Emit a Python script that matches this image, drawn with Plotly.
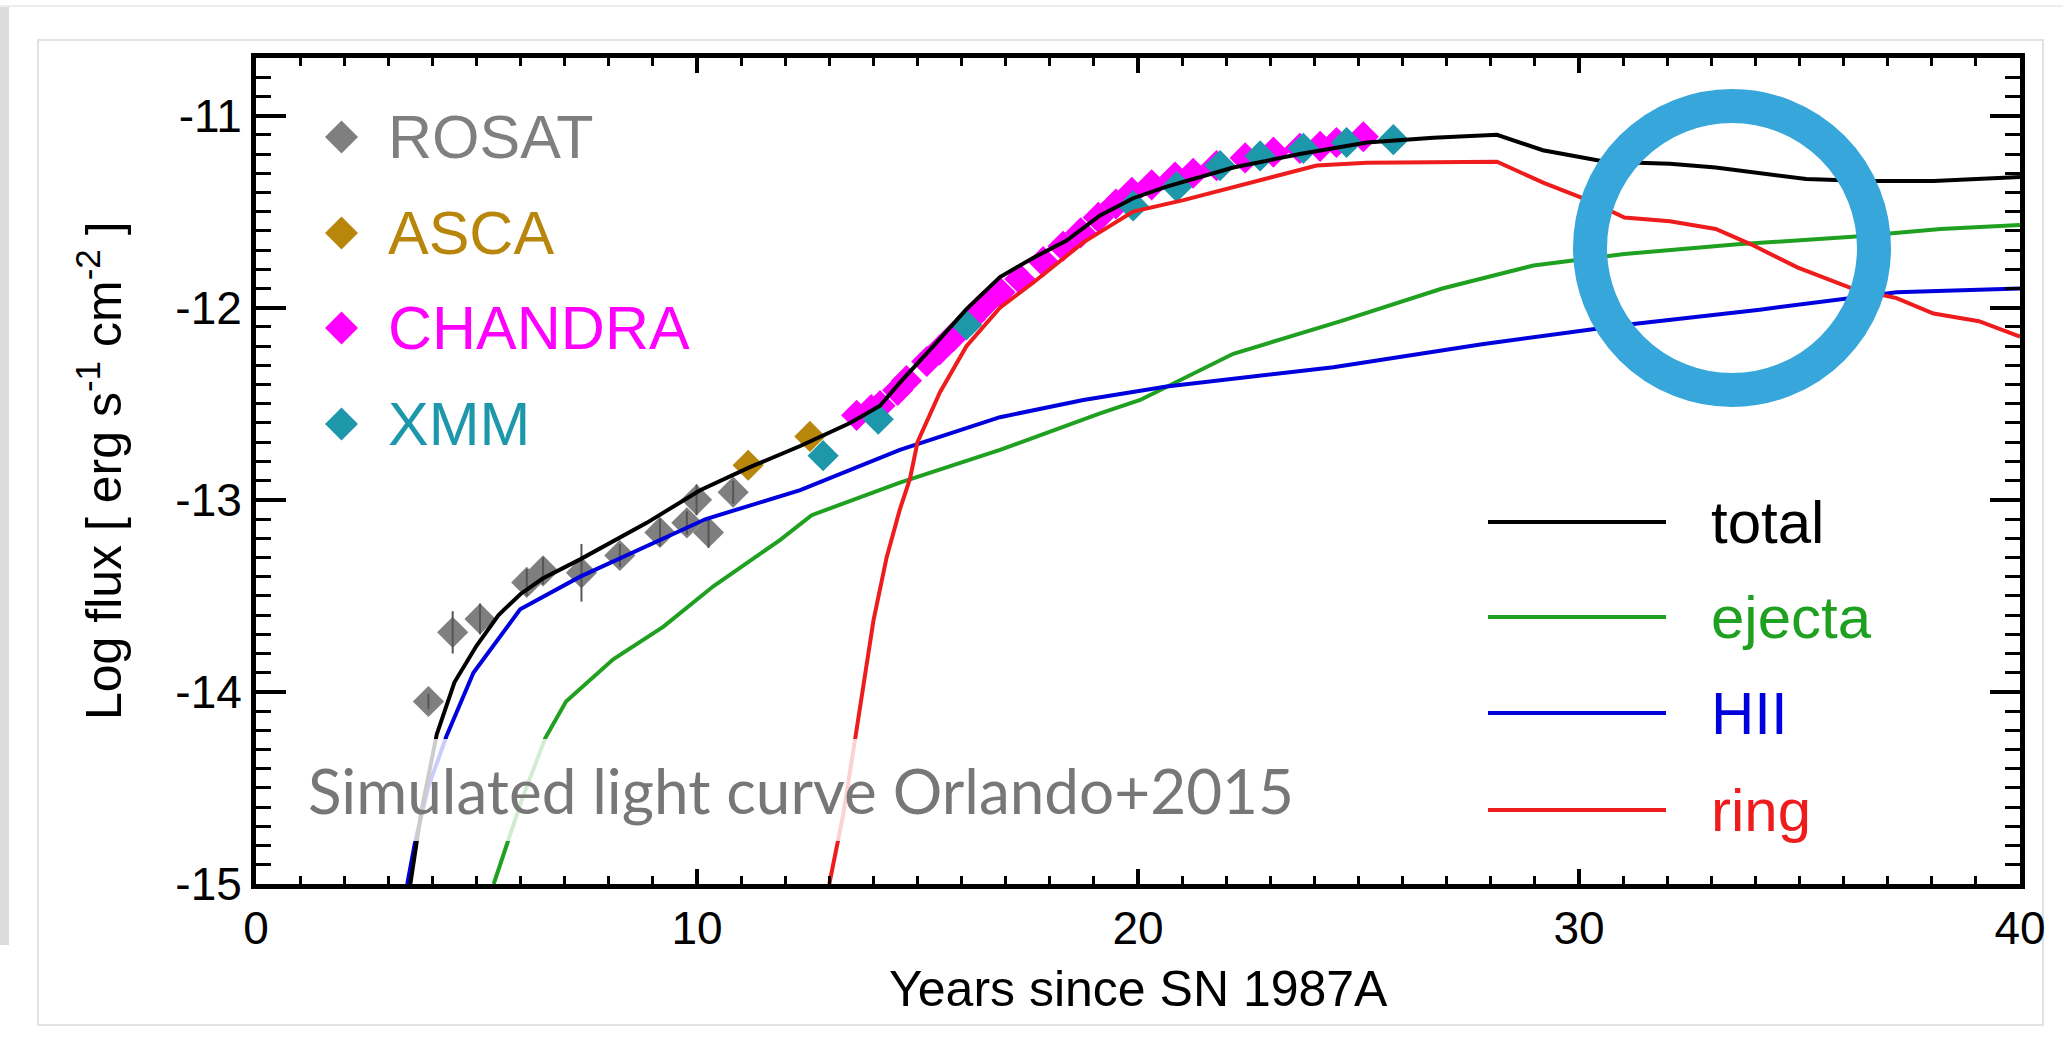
import plotly.graph_objects as go

# ---------------- data ----------------
rosat_x = [3.91, 4.46, 5.08, 6.14, 6.51, 7.38, 8.25, 9.16, 9.77, 9.99, 10.26, 10.82]
rosat_y = [-14.05, -13.69, -13.62, -13.43, -13.37, -13.38, -13.29, -13.17, -13.12, -13.00, -13.17, -12.96]
rosat_err = [0.04, 0.11, 0.08, 0.07, 0.07, 0.15, 0.06, 0.07, 0.06, 0.08, 0.08, 0.06]

asca_x = [11.16, 12.56]
asca_y = [-12.82, -12.67]

chandra_x = [13.62, 13.95, 14.15, 14.55, 14.75, 15.21, 15.50, 15.81, 16.20, 16.49, 16.87, 17.32,
             17.85, 18.30, 18.70, 19.10, 19.50, 19.86, 20.31, 20.84, 21.25, 21.78, 22.43, 23.07,
             23.67, 24.13, 24.50, 25.11]
chandra_y = [-12.56, -12.53, -12.51, -12.43, -12.38, -12.28, -12.22, -12.15, -12.06, -11.99, -11.92, -11.85,
             -11.76, -11.68, -11.61, -11.53, -11.46, -11.40, -11.36, -11.32, -11.30, -11.26, -11.22, -11.19,
             -11.17, -11.16, -11.14, -11.11]

xmm_x = [12.86, 14.11, 16.11, 19.89, 20.88, 21.86, 22.77, 23.75, 24.73, 25.79]
xmm_y = [-12.77, -12.58, -12.09, -11.47, -11.37, -11.26, -11.21, -11.17, -11.14, -11.125]

total_x = [3.50, 3.75, 4.10, 4.50, 5.00, 5.50, 6.00, 6.50, 7.35, 8.86, 10.07, 11.20, 12.34, 13.47,
           14.15, 14.60, 15.36, 16.10, 16.87, 17.63, 18.38, 19.14, 19.89, 20.65, 22.16, 23.67,
           25.19, 26.70, 28.14, 29.18, 30.60, 32.06, 33.10, 35.15, 36.50, 38.04, 40.00]
total_y = [-15.00, -14.62, -14.22, -13.95, -13.76, -13.60, -13.49, -13.41, -13.31, -13.12, -12.95, -12.83,
           -12.72, -12.60, -12.51, -12.39, -12.20, -12.01, -11.84, -11.74, -11.65, -11.52, -11.43, -11.37,
           -11.27, -11.20, -11.14, -11.115, -11.10, -11.18, -11.24, -11.25, -11.27, -11.33, -11.34, -11.34,
           -11.32]

ejecta_x = [5.39, 5.69, 6.03, 6.56, 7.03, 8.10, 9.24, 10.37, 11.88, 12.60, 14.60, 16.87, 19.14, 20.05,
            22.16, 24.60, 26.90, 28.97, 31.03, 33.60, 36.20, 38.20, 40.00]
ejecta_y = [-15.00, -14.79, -14.56, -14.24, -14.05, -13.83, -13.66, -13.45, -13.21, -13.08, -12.91, -12.74,
            -12.55, -12.48, -12.24, -12.07, -11.90, -11.78, -11.72, -11.67, -11.63, -11.59, -11.57]

hii_x = [3.43, 3.60, 3.90, 4.32, 4.93, 5.99, 7.35, 8.86, 10.20, 12.34, 14.60, 16.87, 18.76, 20.65,
         24.43, 27.80, 31.03, 34.10, 37.20, 40.00]
hii_y = [-15.00, -14.79, -14.50, -14.23, -13.90, -13.57, -13.40, -13.24, -13.10, -12.95, -12.74, -12.57,
         -12.48, -12.41, -12.31, -12.19, -12.09, -12.01, -11.92, -11.90]

ring_x = [13.00, 13.31, 13.61, 14.00, 14.30, 14.60, 14.83, 15.00, 15.51, 16.11, 16.87, 17.62, 18.76,
          19.89, 21.03, 22.92, 24.05, 25.19, 27.90, 28.14, 29.20, 30.20, 31.03, 32.06, 33.10, 33.90,
          34.95, 36.20, 37.20, 38.04, 39.07, 40.00]
ring_y = [-15.00, -14.645, -14.21, -13.63, -13.30, -13.05, -12.89, -12.70, -12.44, -12.20, -12.00, -11.87,
          -11.66, -11.50, -11.44, -11.33, -11.26, -11.245, -11.24, -11.24, -11.35, -11.44, -11.53, -11.55,
          -11.59, -11.67, -11.79, -11.90, -11.95, -12.03, -12.07, -12.15]

x_tickvals = [0, 10, 20, 30, 40]
x_ticktext = ["0", "10", "20", "30", "40"]
y_tickvals = [-15, -14, -13, -12, -11]
y_ticktext = ["-15", "-14", "-13", "-12", "-11"]

marker_series = ["ROSAT", "ASCA", "CHANDRA", "XMM"]
line_series = ["total", "ejecta", "HII", "ring"]

# ---------------- styles ----------------
C_ROSAT, C_ASCA, C_CHANDRA, C_XMM = "#7f7f7f", "#b8860b", "#ff00ff", "#1d97aa"
C_TOTAL, C_EJECTA, C_HII, C_RING = "#000000", "#20a020", "#0000dd", "#ee1c1c"
marker_colors = [C_ROSAT, C_ASCA, C_CHANDRA, C_XMM]
line_colors = [C_TOTAL, C_EJECTA, C_HII, C_RING]

W, H = 2063, 1052
L, R, T, B = 256, 2020, 58, 884
FONT = "Liberation Sans, Arial, Helvetica, sans-serif"
MS = 24
LW = 4


def px(xp):
    return (xp - L) / (R - L)


def py(yp):
    return (B - yp) / (B - T)


fig = go.Figure()

# data markers
fig.add_trace(go.Scatter(x=rosat_x, y=rosat_y, mode="markers",
                         marker=dict(symbol="diamond", size=MS, color=C_ROSAT, line=dict(width=0))))
fig.add_trace(go.Scatter(x=rosat_x, y=rosat_y, mode="markers",
                         marker=dict(size=1, opacity=0),
                         error_y=dict(type="data", array=rosat_err, color="#555555", thickness=2, width=0)))
fig.add_trace(go.Scatter(x=asca_x, y=asca_y, mode="markers",
                         marker=dict(symbol="diamond", size=MS, color=C_ASCA, line=dict(width=0))))
fig.add_trace(go.Scatter(x=chandra_x, y=chandra_y, mode="markers",
                         marker=dict(symbol="diamond", size=MS, color=C_CHANDRA, line=dict(width=0))))
fig.add_trace(go.Scatter(x=xmm_x, y=xmm_y, mode="markers",
                         marker=dict(symbol="diamond", size=MS, color=C_XMM, line=dict(width=0))))

# model curves
for xs, ys, c in [(ejecta_x, ejecta_y, C_EJECTA), (hii_x, hii_y, C_HII),
                  (ring_x, ring_y, C_RING), (total_x, total_y, C_TOTAL)]:
    fig.add_trace(go.Scatter(x=xs, y=ys, mode="lines", line=dict(color=c, width=LW)))

shapes = []
annotations = []

# screenshot frame decoration
shapes.append(dict(type="rect", xref="paper", yref="paper", x0=px(38), x1=px(2043), y0=py(1025), y1=py(40),
                   line=dict(color="#e2e2e2", width=2), layer="below"))
shapes.append(dict(type="rect", xref="paper", yref="paper", x0=px(0), x1=px(9), y0=py(945), y1=py(7),
                   line=dict(width=0), fillcolor="#dcdcdc", layer="below"))
shapes.append(dict(type="line", xref="paper", yref="paper", x0=px(0), x1=px(W), y0=py(6), y1=py(6),
                   line=dict(color="#ededed", width=2), layer="below"))

# marker legend (top-left)
leg_y = [137, 233, 328, 424]
hs = 16.5
for name, c, yy in zip(marker_series, marker_colors, leg_y):
    cx = 341.5
    path = "M {a},{b} L {c},{d} L {e},{f} L {g},{h} Z".format(
        a=px(cx - hs), b=py(yy), c=px(cx), d=py(yy - hs), e=px(cx + hs), f=py(yy), g=px(cx), h=py(yy + hs))
    shapes.append(dict(type="path", xref="paper", yref="paper", path=path, fillcolor=c,
                       line=dict(width=0), layer="above"))
    annotations.append(dict(xref="paper", yref="paper", x=px(386), y=py(yy), xanchor="left", yanchor="middle",
                            text=name, showarrow=False, font=dict(family=FONT, size=61, color=c)))

# line legend (bottom-right)
leg2_y = [522, 617, 713, 810]
for name, c, yy in zip(line_series, line_colors, leg2_y):
    shapes.append(dict(type="line", xref="paper", yref="paper", x0=px(1488), x1=px(1666), y0=py(yy), y1=py(yy),
                       line=dict(color=c, width=LW), layer="above"))
    annotations.append(dict(xref="paper", yref="paper", x=px(1709), y=py(yy), xanchor="left", yanchor="middle",
                            text=name, showarrow=False, font=dict(family=FONT, size=60, color=c)))

# label box
shapes.append(dict(type="rect", xref="paper", yref="paper", x0=px(301), x1=px(1310), y0=py(841), y1=py(739),
                   line=dict(width=0), fillcolor="rgba(255,255,255,0.8)", layer="above"))
annotations.append(dict(xref="paper", yref="paper", x=px(306), y=py(790), xanchor="left", yanchor="middle",
                        text="Simulated light curve Orlando+2015", showarrow=False,
                        font=dict(family="Lato, Noto Sans, sans-serif", size=62, color="#777777")))

# blue highlight circle
RC = 142
shapes.append(dict(type="circle", xref="paper", yref="paper",
                   x0=px(1732 - RC), x1=px(1732 + RC), y0=py(248 + RC), y1=py(248 - RC),
                   line=dict(color="#36a6db", width=34), layer="above"))

# axis titles
annotations.append(dict(xref="paper", yref="paper", x=0.5, y=py(989), xanchor="center", yanchor="middle",
                        text="Years since SN 1987A", showarrow=False,
                        font=dict(family=FONT, size=50, color="black")))
annotations.append(dict(xref="paper", yref="paper", x=px(100), y=0.5, xanchor="center", yanchor="middle",
                        textangle=-90, text="Log flux [ erg s<sup>-1</sup> cm<sup>-2</sup> ]", showarrow=False,
                        font=dict(family=FONT, size=50, color="black")))

fig.update_layout(
    width=W, height=H, autosize=False,
    margin=dict(l=L, r=W - R, t=T, b=H - B, pad=0),
    paper_bgcolor="white", plot_bgcolor="white",
    showlegend=False,
    shapes=shapes, annotations=annotations,
    font=dict(family=FONT, color="black"),
)

fig.update_xaxes(range=[0, 40], tickvals=x_tickvals, ticktext=x_ticktext,
                 showgrid=False, zeroline=False,
                 showline=True, linecolor="black", linewidth=5, mirror="ticks",
                 ticks="inside", ticklen=15, tickwidth=4, tickcolor="black",
                 minor=dict(dtick=1, tick0=0, ticks="inside", ticklen=8, tickwidth=3, tickcolor="black"),
                 tickfont=dict(family=FONT, size=46, color="black"))
fig.update_yaxes(range=[-15, -10.7], tickvals=y_tickvals, ticktext=y_ticktext,
                 showgrid=False, zeroline=False,
                 showline=True, linecolor="black", linewidth=5, mirror="ticks",
                 ticks="inside", ticklen=30, tickwidth=4, tickcolor="black",
                 minor=dict(dtick=0.1, tick0=-15, ticks="inside", ticklen=15, tickwidth=3, tickcolor="black"),
                 tickfont=dict(family=FONT, size=46, color="black"))

fig.write_html("out.html")
